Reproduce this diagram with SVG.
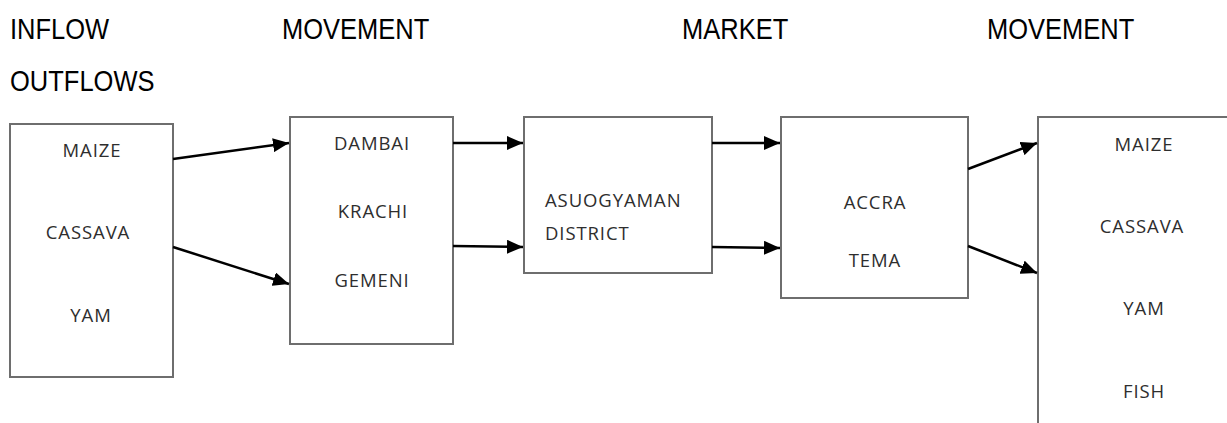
<svg xmlns="http://www.w3.org/2000/svg" width="1227" height="423" viewBox="0 0 1227 423">
<style>
.hdr{font-family:"Liberation Sans",Arial,sans-serif;font-size:25.5px;fill:#000}
.box{fill:#fff;stroke:#6e6e6e;stroke-width:2}
.lbl{font-family:"Open Sans","DejaVu Sans",sans-serif;font-size:18.5px;fill:#2e2e2e;text-anchor:middle;letter-spacing:0.9px}
.lbl-l{font-family:"Open Sans","DejaVu Sans",sans-serif;font-size:18.5px;fill:#2e2e2e;letter-spacing:0.9px}
.arr{stroke:#000;stroke-width:2.5;fill:none;marker-end:url(#ah)}
</style>
<defs>
<marker id="ah" markerWidth="16" markerHeight="14" refX="16" refY="7" orient="auto" markerUnits="userSpaceOnUse">
<path d="M0,0 L16,7 L0,14 Z" fill="#000"/>
</marker>
</defs>
<rect width="1227" height="423" fill="#fff"/>
<g id="headers">
<text class="hdr" transform="translate(10,39) scale(1,1.15)">INFLOW</text>
<text class="hdr" transform="translate(282,39) scale(1,1.15)">MOVEMENT</text>
<text class="hdr" transform="translate(682,39) scale(1,1.15)">MARKET</text>
<text class="hdr" transform="translate(987,39) scale(1,1.15)">MOVEMENT</text>
<text class="hdr" transform="translate(10,91) scale(1,1.15)">OUTFLOWS</text>
</g>
<g id="inflow">
<rect class="box" x="10" y="124" width="163" height="253"/>
<text class="lbl" x="92" y="157">MAIZE</text>
<text class="lbl" x="88" y="239">CASSAVA</text>
<text class="lbl" x="91" y="322">YAM</text>
</g>
<g id="movement1">
<rect class="box" x="290" y="117" width="163" height="227"/>
<text class="lbl" x="372" y="150">DAMBAI</text>
<text class="lbl" x="373" y="218">KRACHI</text>
<text class="lbl" x="372" y="287">GEMENI</text>
</g>
<g id="market">
<rect class="box" x="524" y="117" width="188" height="156"/>
<text class="lbl-l" x="545" y="207">ASUOGYAMAN</text>
<text class="lbl-l" x="545" y="240">DISTRICT</text>
</g>
<g id="movement2">
<rect class="box" x="781" y="117" width="187" height="181"/>
<text class="lbl" x="875" y="209">ACCRA</text>
<text class="lbl" x="875" y="267">TEMA</text>
</g>
<g id="outflows">
<path class="box" d="M1227,117 H1038 V423" fill="none"/>
<text class="lbl" x="1144" y="151">MAIZE</text>
<text class="lbl" x="1142" y="233">CASSAVA</text>
<text class="lbl" x="1144" y="315">YAM</text>
<text class="lbl" x="1144" y="398">FISH</text>
</g>
<g id="connectors">
<line class="arr" x1="173" y1="159" x2="289" y2="143"/>
<line class="arr" x1="173" y1="247" x2="289" y2="284"/>
<line class="arr" x1="453" y1="143" x2="523" y2="143"/>
<line class="arr" x1="453" y1="246" x2="523" y2="247"/>
<line class="arr" x1="712" y1="143" x2="780" y2="143"/>
<line class="arr" x1="712" y1="247" x2="780" y2="248"/>
<line class="arr" x1="968" y1="169" x2="1037" y2="143"/>
<line class="arr" x1="968" y1="246" x2="1037" y2="273"/>
</g>
</svg>
